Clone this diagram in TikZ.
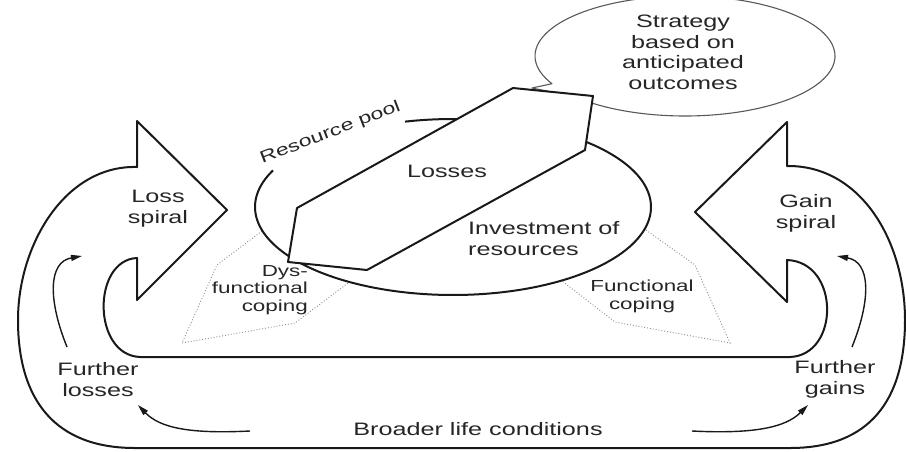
\documentclass[tikz,border=0pt]{standalone}
\usepackage{fontspec}
\setmainfont{Liberation Sans}[FakeStretch=1.4]
\usetikzlibrary{arrows.meta}
\begin{document}
\begin{tikzpicture}[x=1pt,y=-1pt,
  lbl/.style={font=\fontsize{18}{21}\selectfont, text=black!85, inner sep=0pt, align=center},
  small/.style={font=\fontsize{16}{17.5}\selectfont, text=black!85, inner sep=0pt},
  heavy/.style={line width=2pt, draw=black!90, line join=round},
  bubble/.style={line width=1.1pt, draw=black!65, line join=round},
  dots/.style={line width=0.9pt, draw=black!45, dotted},
  sarrow/.style={line width=1.4pt, draw=black!90, -{Triangle[length=11pt,width=6pt]}}]
\clip (0,0) rectangle (906,451);
\fill[white] (0,0) rectangle (906,451);

% coordinates
\coordinate (la1) at (67,347);  \coordinate (la2) at (82,256);
\coordinate (ra1) at (852,347); \coordinate (ra2) at (837,256);
\coordinate (lb1) at (250,431); \coordinate (lb2) at (138,405);
\coordinate (rb1) at (692,431); \coordinate (rb2) at (808,405);

% outer loop with the two spiral arrows
\draw[heavy] (137,258) .. controls (92,260) and (92,355) .. (140,357) -- (790,357)
  .. controls (840,355) and (840,262) .. (787,260) -- (787,302) -- (695,212) -- (787,122) -- (787,166)
  .. controls (860,165) and (905,240) .. (905,320) .. controls (905,400) and (870,448) .. (790,448)
  -- (135,448) .. controls (55,448) and (18,400) .. (18,320) .. controls (18,245) and (65,165) .. (137,167)
  -- (137,121) -- (227,210) -- (137,300) -- cycle;

% dotted coping regions
\draw[dots] (262,231) -- (217,265) -- (182,343) -- (295,323) -- (348,283);
\draw[dots] (646,230) -- (695,265) -- (730,343) -- (615,322) -- (562,281);

% strategy bubble
\draw[bubble] plot[domain=152.5:497.1, samples=120, smooth, variable=\t] ({685+150*cos(\t)},{56+60*sin(\t)}) -- (532,88) -- cycle;

% resource pool
\draw[heavy] plot[domain=256:564.6, samples=100, smooth, variable=\t] ({453+198*cos(\t)},{207+88*sin(\t)});

% losses polygon
\draw[heavy, fill=white] (297,208) -- (513,88) -- (593,96) -- (585,150) -- (367,270) -- (288,262) -- cycle;

% small arrows
\draw[sarrow] (la1) .. controls (48,300) and (48,262) .. (la2);
\draw[sarrow] (ra1) .. controls (871,300) and (871,262) .. (ra2);
\draw[sarrow] (lb1) .. controls (190,434) and (160,428) .. (lb2);
\draw[sarrow] (rb1) .. controls (752,434) and (785,428) .. (rb2);

% labels
\node[lbl, anchor=north] (loss) at (158,190) {Loss\\spiral};
\node[lbl, anchor=north] (gain) at (806,194) {Gain\\spiral};
\node[lbl, anchor=north] (flosses) at (98,362) {Further\\losses};
\node[lbl, anchor=north] (fgains) at (835,360) {Further\\gains};
\node[lbl, anchor=north] (broader) at (478,422) {Broader life conditions};
\node[lbl, anchor=north] (losses) at (447,165) {Losses};
\node[lbl, anchor=north west, align=left] (invest) at (468,221) {Investment of\\resources};
\node[lbl, anchor=north, font=\fontsize{18}{20.5}\selectfont] (strategy) at (683,15) {Strategy\\based on\\anticipated\\outcomes};
\node[small, anchor=north east, align=right] (dys) at (308,265) {Dys-\\functional\\coping};
\node[small, anchor=north, align=center] (func) at (642,280) {Functional\\coping};
\node[rotate=21, anchor=base, inner sep=0pt, font=\fontsize{16.5}{20}\selectfont, text=black!85] (pool) at (332,137) {Resource pool};
\end{tikzpicture}
\end{document}
